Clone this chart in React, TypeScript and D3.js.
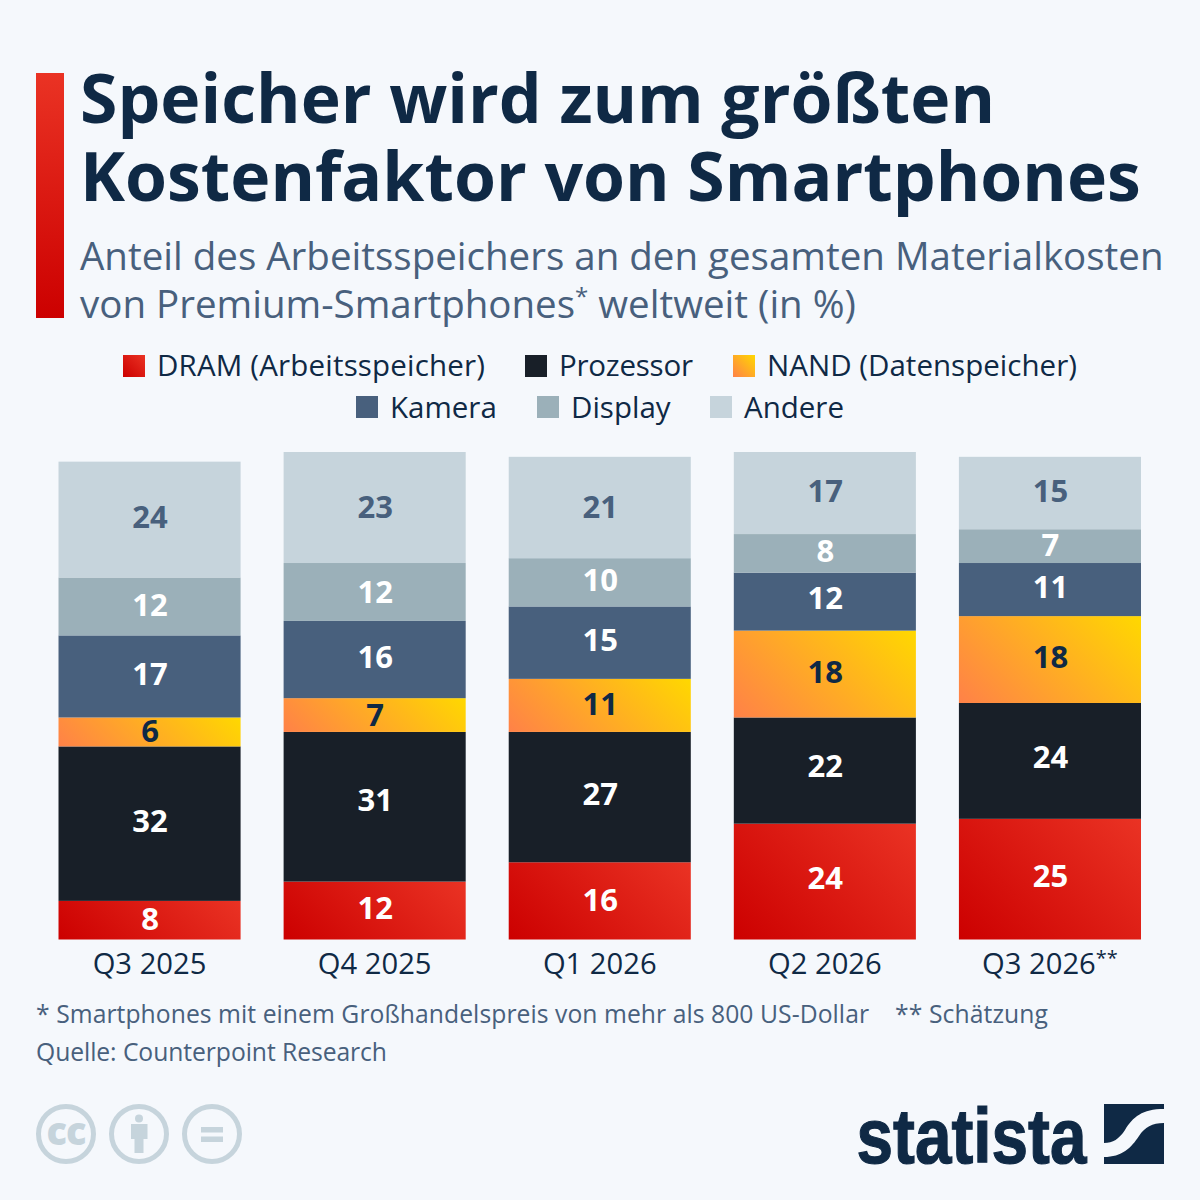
import { scaleBand, scaleLinear, stack } from 'd3'

const quarters = ['Q3 2025', 'Q4 2025', 'Q1 2026', 'Q2 2026', 'Q3 2026']
const seriesNames = ['dram', 'prozessor', 'nand', 'kamera', 'display', 'andere']
const dram = [8, 12, 16, 24, 25]
const prozessor = [32, 31, 27, 22, 24]
const nand = [6, 7, 11, 18, 18]
const kamera = [17, 16, 15, 12, 11]
const display = [12, 12, 10, 8, 7]
const andere = [24, 23, 21, 17, 15]
const columns = [dram, prozessor, nand, kamera, display, andere]

const legendRow1 = [
  { label: 'DRAM (Arbeitsspeicher)', x: 123, fill: 'url(#legendRed)', len: 328 },
  { label: 'Prozessor', x: 525, fill: '#181f28', len: 134 },
  { label: 'NAND (Datenspeicher)', x: 733, fill: 'url(#legendOrange)', len: 310 },
]
const legendRow2 = [
  { label: 'Kamera', x: 356, fill: '#48607d' },
  { label: 'Display', x: 537, fill: '#9bb0b9' },
  { label: 'Andere', x: 710, fill: '#c6d4dc' },
]

const FILLS = ['red', '#181f28', 'orange', '#48607d', '#9bb0b9', '#c6d4dc']
const LABEL = ['#fff', '#fff', '#0f2945', '#fff', '#fff', '#48607d']
// the source nudges its labels off the exact segment middle
const LABEL_DY = [
  [1, 0, 2, -1, -1],
  [0, -4, -1, -2, -1],
  [2, 2, 1, 0, 0],
  [0, 0, 0, -1, 0],
  [1, 3, 0, 0, 1],
  [0, 2, 2, 0, 0],
]
const RAMPS: Record<string, [string, string]> = {
  red: ['#cc0000', '#ea3324'],
  orange: ['#ff8148', '#ffd800'],
}
const NAVY = '#0f2945'
const FONT = '"Open Sans", sans-serif'

// CSS-style 45deg gradient: isolines stay diagonal whatever the box shape
function Diagonal({ id, ramp, x, y, w, h }: { id: string; ramp: [string, string]; x: number; y: number; w: number; h: number }) {
  const cx = x + w / 2
  const cy = y + h / 2
  const d = (w + h) / 4
  return (
    <linearGradient id={id} gradientUnits="userSpaceOnUse" x1={cx - d} y1={cy + d} x2={cx + d} y2={cy - d}>
      <stop offset="0" stopColor={ramp[0]} />
      <stop offset="1" stopColor={ramp[1]} />
    </linearGradient>
  )
}

export default function App() {
  const rows = quarters.map((q, i) => {
    const r: Record<string, number | string> = { q }
    seriesNames.forEach((s, j) => (r[s] = columns[j][i]))
    return r
  })
  const layers = stack<Record<string, number | string>>().keys(seriesNames)(rows as any)
  const x = scaleBand().domain(quarters).range([36.5, 1163]).paddingInner(43 / 225).paddingOuter(22 / 225)
  const y = scaleLinear().domain([0, 101]).range([939.5, 452])

  return (
    <svg
      width={1200}
      height={1200}
      viewBox="0 0 1200 1200"
      style={{ position: 'absolute', left: 0, top: 0, background: '#f5f8fc' }}
      fontFamily={FONT}
    >
      <defs>
        <Diagonal id="legendRed" ramp={RAMPS.red} x={123} y={355} w={22} h={22} />
        <Diagonal id="legendOrange" ramp={RAMPS.orange} x={733} y={355} w={22} h={22} />
        <linearGradient id="titleBar" x1="0" y1="0" x2="0" y2="1">
          <stop offset="0" stopColor="#ea3324" />
          <stop offset="1" stopColor="#cc0000" />
        </linearGradient>
      </defs>

      <rect x={36} y={73} width={28} height={245} fill="url(#titleBar)" />
      <g fontWeight={700} fontSize={67.9} fill={NAVY}>
        <text x={80} y={123} textLength={915}>Speicher wird zum größten</text>
        <text x={80} y={201}>Kostenfaktor von Smartphones</text>
      </g>
      <g fontSize={38.5} fill="#48607d">
        <text x={80} y={270}>Anteil des Arbeitsspeichers an den gesamten Materialkosten</text>
        <text x={80} y={318}>
          von Premium-Smartphones<tspan fontSize={24} dy={-13}>*</tspan><tspan dy={13}> weltweit (in %)</tspan>
        </text>
      </g>

      <g fontSize={29.5} fill={NAVY}>
        {legendRow1.map((d) => (
          <g key={d.label}>
            <rect x={d.x} y={355} width={22} height={22} fill={d.fill} />
            <text x={d.x + 34} y={376} textLength={d.len}>{d.label}</text>
          </g>
        ))}
        {legendRow2.map((d) => (
          <g key={d.label}>
            <rect x={d.x} y={396} width={22} height={22} fill={d.fill} />
            <text x={d.x + 34} y={418}>{d.label}</text>
          </g>
        ))}
      </g>

      {layers.map((layer, j) =>
        layer.map((seg, i) => {
          const bx = x(quarters[i]) as number
          const y0 = y(seg[1])
          const y1 = y(seg[0])
          const ramp = RAMPS[FILLS[j]]
          const gid = `seg-${j}-${i}`
          return (
            <g key={gid}>
              {ramp && (
                <defs>
                  <Diagonal id={gid} ramp={ramp} x={bx} y={y0} w={x.bandwidth()} h={y1 - y0} />
                </defs>
              )}
              <rect x={bx} y={y0} width={x.bandwidth()} height={y1 - y0} fill={ramp ? `url(#${gid})` : FILLS[j]} />
              <text
                x={bx + x.bandwidth() / 2 + 0.5}
                y={(y0 + y1) / 2 + 8.5 + LABEL_DY[j][i]}
                textAnchor="middle"
                fontSize={31}
                fontWeight={700}
                fill={LABEL[j]}
              >
                {seg[1] - seg[0]}
              </text>
            </g>
          )
        }),
      )}

      <g fontSize={29.2} fill={NAVY} textAnchor="middle">
        {quarters.map((q, i) => (
          <text key={q} x={(x(q) as number) + x.bandwidth() / 2} y={974}>
            {q}
            {i === quarters.length - 1 && <tspan fontSize={20} dy={-9}>**</tspan>}
          </text>
        ))}
      </g>

      <g fontSize={24.7} fill="#48607d">
        <text x={36} y={1023} textLength={833}>* Smartphones mit einem Großhandelspreis von mehr als 800 US-Dollar</text>
        <text x={895} y={1023} textLength={153}>** Schätzung</text>
        <text x={36} y={1061} textLength={351}>Quelle: Counterpoint Research</text>
      </g>

      <g fill="none" stroke="#c6d4dc" strokeWidth={5}>
        <circle cx={66} cy={1134} r={27.5} />
        <circle cx={139} cy={1134} r={27.5} />
        <circle cx={212} cy={1134} r={27.5} />
      </g>
      <g fill="#c6d4dc">
        <text x={66} y={1144.5} textAnchor="middle" fontSize={38} fontWeight={800} letterSpacing={-1}>cc</text>
        <circle cx={139} cy={1118.5} r={4} />
        <path d="M131 1124h16.500v15h-4v14h-9v-14h-3.500z" />
        <rect x={201} y={1127} width={22} height={5.500} />
        <rect x={201} y={1136.500} width={22} height={5.500} />
      </g>

      <text
        x={856.500}
        y={1162.500}
        fontFamily='"Liberation Sans Narrow", "Liberation Sans", sans-serif'
        fontWeight={700}
        fontSize={78}
        fill={NAVY}
        stroke={NAVY}
        strokeWidth={1.2}
        textLength={230}
        lengthAdjust="spacingAndGlyphs"
      >
        statista
      </text>
      <path
        fill={NAVY}
        d="M1104 1104H1164V1109C1142 1109 1133 1117 1125 1130C1119 1139 1113 1143 1104 1143ZM1104 1164V1157C1122 1157 1131 1148 1139 1136C1145 1127 1152 1123 1164 1123V1164Z"
      />
    </svg>
  )
}
